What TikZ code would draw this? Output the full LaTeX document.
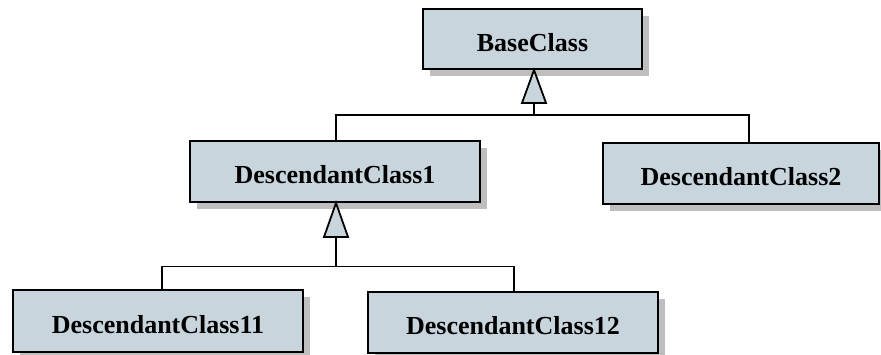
\documentclass[tikz,border=0pt]{standalone}
\usepackage{fontspec}
\setmainfont{Liberation Serif}
\usetikzlibrary{shadows,calc}
\definecolor{classfill}{RGB}{201,213,221}
\definecolor{shadowgray}{RGB}{190,190,190}
\tikzset{
  classbox/.style={draw=black, line width=2pt, fill=classfill, inner sep=0pt,
    minimum height=61pt, text height=24pt, text depth=0pt,
    font=\fontsize{26}{30}\selectfont\bfseries,
    drop shadow={shadow xshift=7pt, shadow yshift=-7pt, fill=shadowgray, opacity=1}},
  link/.style={draw=black, line width=1.8pt},
  inherit/.style={draw=black, line width=1.8pt, fill=classfill, line join=miter}
}
\begin{document}
\begin{tikzpicture}[x=1pt, y=-1pt]
  \useasboundingbox (0,0) rectangle (881,354);
  \clip (0,0) rectangle (881,354);
  \fill[white] (0,0) rectangle (881,354);

  % classes
  \node[classbox, minimum width=219pt, minimum height=60pt] (base) at (532.5,39) {BaseClass};
  \node[classbox, minimum width=290pt] (d1) at (335,171.5) {DescendantClass1};
  \node[classbox, minimum width=276pt] (d2) at (741,173.5) {DescendantClass2};
  \node[classbox, minimum width=290pt, minimum height=62pt] (d11) at (158,321) {DescendantClass11};
  \node[classbox, minimum width=290pt] (d12) at (513,322.5) {DescendantClass12};

  % junction rails
  \coordinate (rail1) at (534,115);
  \coordinate (rail2) at (336,266.5);

  % BaseClass <- DescendantClass1, DescendantClass2
  \draw[link] (d1.north -| rail2) |- (rail1) -| (d2.north -| 749,0);
  \draw[link] (rail1) -- ++(0,-12) coordinate (tri1);
  \draw[inherit] (base.south -| rail1) -- ($(tri1)+(-12,0)$) -- ($(tri1)+(12,0)$) -- cycle;

  % DescendantClass1 <- DescendantClass11, DescendantClass12
  \draw[link] (d11.north -| 162,0) |- (rail2) -| (d12.north -| 514,0);
  \draw[link] (rail2) -- ++(0,-29.5) coordinate (tri2);
  \draw[inherit] (d1.south -| rail2) -- ($(tri2)+(-12,0)$) -- ($(tri2)+(12,0)$) -- cycle;
\end{tikzpicture}
\end{document}
